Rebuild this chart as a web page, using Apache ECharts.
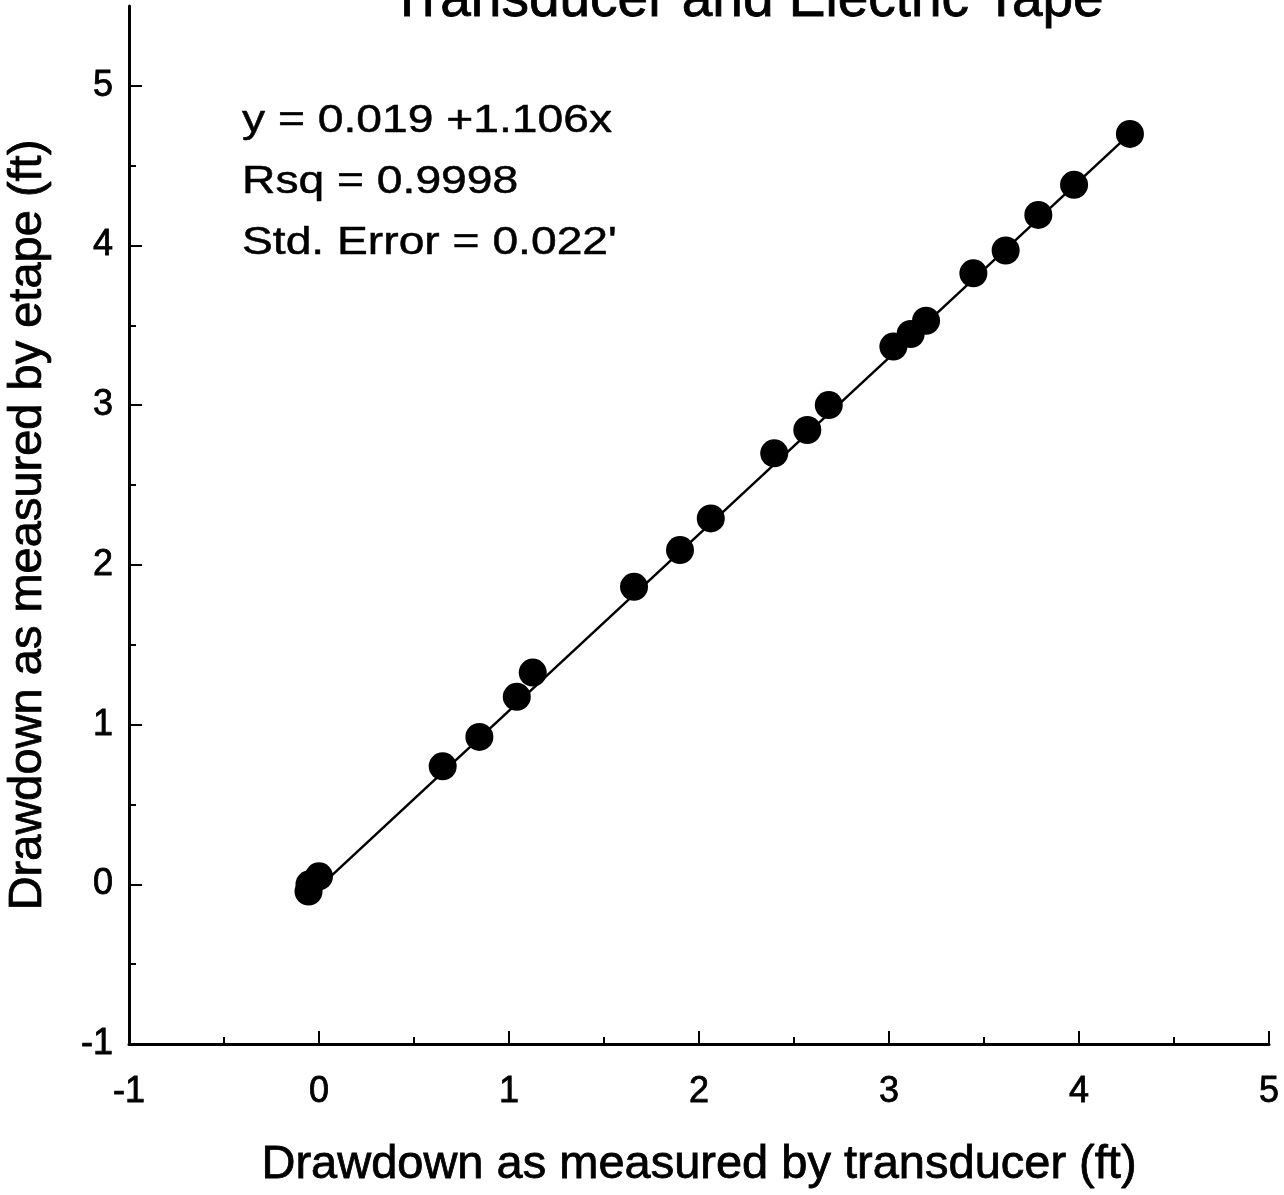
<!DOCTYPE html>
<html>
<head>
<meta charset="utf-8">
<script src="https://cdn.jsdelivr.net/npm/echarts@6/dist/echarts.min.js"></script>
<style>
html,body{margin:0;padding:0;background:#fff;}
#chart{width:1284px;height:1195px;}
</style>
</head>
<body>
<div id="chart"></div>
<script>
// Data
const transducer = [-0.055, -0.05, 0.0, 0.651, 0.844, 1.041, 1.125, 1.658, 1.900, 2.062, 2.396, 2.570, 2.683, 3.023, 3.114, 3.195, 3.444, 3.614, 3.786, 3.974, 4.268];
const etape      = [-0.045, 0.0, 0.050, 0.739, 0.923, 1.174, 1.326, 1.863, 2.093, 2.291, 2.699, 2.845, 3.001, 3.367, 3.446, 3.529, 3.826, 3.969, 4.192, 4.380, 4.699];
// fitted line endpoints as drawn in the picture
const fitX = [-0.06, 4.268];
const fitY = [-0.085, 4.699];
const xTicks = [-1, 0, 1, 2, 3, 4, 5];
const yTicks = [-1, 0, 1, 2, 3, 4, 5];
const yMinorTicks = [-0.5, 0.5, 1.5, 2.5, 3.5, 4.5];
const titleText = 'Transducer and Electric Tape';
const statLines = ['y = 0.019 +1.106x', 'Rsq = 0.9998', "Std. Error = 0.022'"];
const xName = 'Drawdown as measured by transducer (ft)';
const yName = 'Drawdown as measured by etape (ft)';

const FONT = '"Liberation Sans", Arial, sans-serif';
const points = transducer.map((x, i) => [x, etape[i]]);
const fitLine = fitX.map((x, i) => [x, fitY[i]]);

const chart = echarts.init(document.getElementById('chart'), null, {renderer: 'canvas'});
const statY = [121.5, 182, 243.5];
const heavy = {textBorderColor: '#000', textBorderWidth: 0.8};
chart.setOption({
  backgroundColor: '#ffffff',
  animation: false,
  grid: {left: 129, right: 15, top: 6, bottom: 151, outerBoundsMode: 'none', containLabel: false},
  xAxis: {
    type: 'value', min: -1, max: 5, interval: 1,
    name: xName, nameLocation: 'middle', nameGap: 98,
    nameTextStyle: Object.assign({fontFamily: FONT, fontSize: 47, color: '#000'}, heavy),
    axisLine: {show: true, onZero: false, lineStyle: {color: '#000', width: 3}},
    axisTick: {show: true, inside: true, length: 13, lineStyle: {color: '#000', width: 2}},
    minorTick: {show: true, splitNumber: 2, length: 7, lineStyle: {color: '#000', width: 2}},
    axisLabel: Object.assign({show: true, margin: 30, fontFamily: FONT, fontSize: 36, color: '#000',
      customValues: xTicks, showMinLabel: true, showMaxLabel: true}, heavy),
    splitLine: {show: false}
  },
  yAxis: [{
    type: 'value', min: -1, max: 5.5, interval: 0.5, position: 'left',
    name: yName, nameLocation: 'middle', nameGap: 77,
    nameTextStyle: Object.assign({fontFamily: FONT, fontSize: 47, color: '#000'}, heavy),
    axisLine: {show: true, onZero: false, lineStyle: {color: '#000', width: 3}},
    axisTick: {show: true, inside: true, length: 13, customValues: yTicks, lineStyle: {color: '#000', width: 2}},
    axisLabel: Object.assign({show: true, margin: 16, fontFamily: FONT, fontSize: 36, color: '#000', customValues: yTicks}, heavy),
    splitLine: {show: false}
  }, {
    type: 'value', min: -1, max: 5.5, interval: 0.5, position: 'left', offset: 0,
    axisLine: {show: false, onZero: false},
    axisTick: {show: true, inside: true, length: 7, customValues: yMinorTicks, lineStyle: {color: '#000', width: 2}},
    axisLabel: {show: false},
    splitLine: {show: false}
  }],
  graphic: [
    {type: 'text', x: 747, y: 1, silent: true,
      style: {text: titleText, fontFamily: FONT, fontSize: 55, fill: '#000', stroke: '#000', lineWidth: 0.8, align: 'center', verticalAlign: 'middle'}},
  ].concat(statLines.map((t, i) => ({
    type: 'text', x: 242, y: statY[i], scaleX: 1.185, silent: true,
    style: {text: t, fontFamily: FONT, fontSize: 39, fill: '#000', stroke: '#000', lineWidth: 0.5, align: 'left', verticalAlign: 'middle'}
  }))),
  series: [{
    type: 'line', data: fitLine, yAxisIndex: 0, symbol: 'none', z: 2,
    lineStyle: {color: '#000', width: 2.5}
  }, {
    type: 'scatter', data: points, yAxisIndex: 0, symbol: 'circle', symbolSize: 28, z: 3,
    itemStyle: {color: '#000', opacity: 1}
  }]
});
</script>
</body>
</html>
